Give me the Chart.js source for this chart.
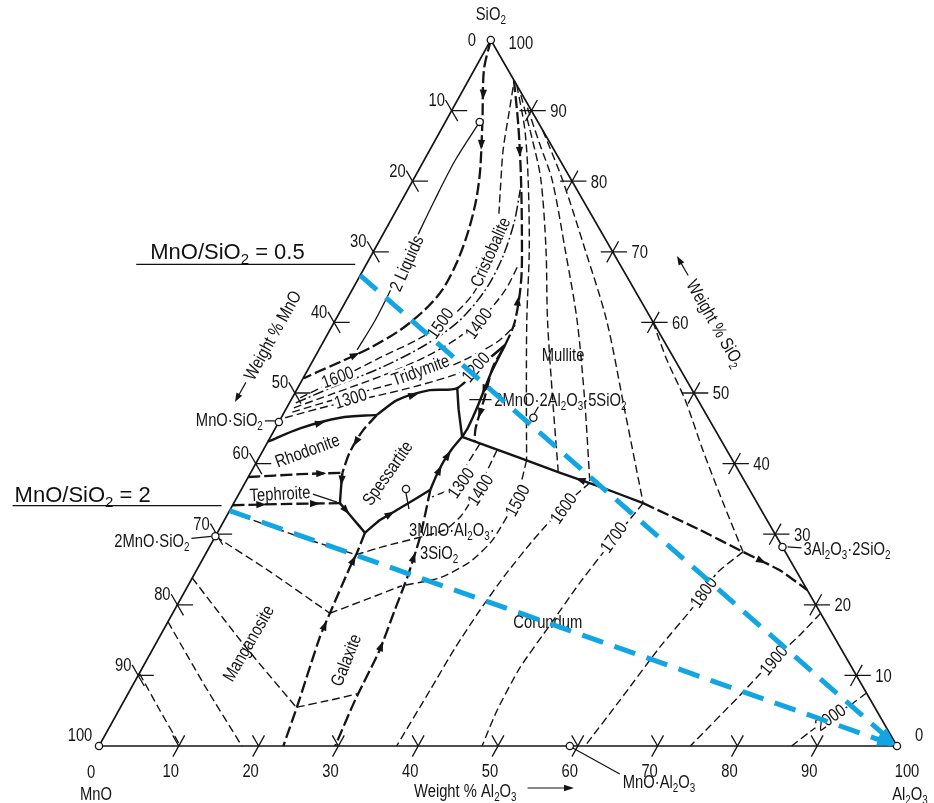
<!DOCTYPE html>
<html>
<head>
<meta charset="utf-8">
<script src="https://cdn.jsdelivr.net/npm/chart.js@4/dist/chart.umd.min.js"></script>
<style>
  html, body { margin: 0; padding: 0; background: #fff; }
  canvas { display: block; }
</style>
</head>
<body>
<canvas id="phase" width="934" height="803"></canvas>
<script>
// MnO – SiO2 – Al2O3 phase diagram (weight %).
// Every composition is written as [wt% Al2O3, wt% SiO2]; MnO is the remainder.

const tickValues = [10, 20, 30, 40, 50, 60, 70, 80, 90];

// Constant MnO/SiO2 ratio lines, from the MnO–SiO2 side to the Al2O3 corner
const ratioHalf = [[0, 66.67], [100, 0]];   // MnO/SiO2 = 0.5
const ratioTwo  = [[0, 33.33], [100, 0]];   // MnO/SiO2 = 2

// Compounds and corners (small open circles)
const compoundPoints = [[0, 100], [0, 0], [100, 0], [0, 45.9], [0, 29.7], [59, 0],
                        [71.8, 28.2], [31.6, 46.5], [20.6, 36.4], [4.3, 88.4]];

// Silica corner
const liquidGap = [[4.3,88.4],[3.9,83.0],[4.1,77.3],[4.5,71.0],[4.8,65.3],[5.0,60.3],[4.8,56.1]];
const silicaBoundary = [[0,100],[1.2,95.8],[4.5,88.7],[7.7,81.6],[9.3,77.3],[10.5,72.8],[11.2,68.6],
                        [11.3,64.6],[10.5,61.8],[8.8,58.9],[6.3,56.4],[3.5,54.4],[1.4,53.0],[0.1,52.1]];
const silicaIsoA = [[1.0,49.3],[4.6,52.1],[8.2,55.0],[11.9,57.8],[14.2,60.6],[15.4,63.9],[15.3,68.1],
                    [14.0,73.1],[11.6,78.8],[9.2,84.4],[7.2,90.1],[5.8,94.1]];
const cristobaliteTridymite = [[0.8,48.6],[4.1,50.7],[8.9,53.5],[13.0,56.8],[15.6,60.3],[16.7,64.6],
                               [16.6,69.1],[15.6,74.2],[14.1,78.8]];
const silicaIsoB = [[0.9,47.9],[5.0,50.0],[10.0,52.6],[13.8,55.1],[16.6,57.8],[18.4,61.1],[19.2,64.6],[19.1,68.1]];
const silicaIsoC = [[1.0,47.3],[6.0,49.3],[12.4,51.6],[17.6,53.8],[20.3,55.8],[22.0,57.5],[22.9,59.6]];
const silicaIsoD = [[0.5,46.5],[5.3,48.2],[10.8,49.7],[15.1,51.1],[18.8,52.6],[22.3,54.4]];
const cristobaliteMullite = [[5.7,94.3],[9.5,87.7],[13.3,80.6],[17.1,73.1],[20.5,66.0],[22.6,60.1],
                             [23.0,56.8],[23.0,53.7],[24.1,49.3],[25.1,45.0],[25.9,43.1]];
const tridymiteWedge = [[23.0,56.8],[23.2,52.6],[23.8,48.3],[24.1,45.0],[24.0,43.8]];

// Field boundaries around spessartite
const tridymiteSpessartite = [[11.8,46.9],[13.3,49.0],[16.7,50.4],[20.0,50.7],[21.7,54.4],[23.0,56.8]];
const eutecticLink = [[20.0,50.7],[21.7,47.6],[24.0,43.8]];
const rhodoniteTridymite = [[0,43.1],[3.1,45.0],[7.4,46.5],[11.8,46.9]];
const rhodoniteSpessartite = [[11.8,46.9],[11.1,44.5],[11.0,41.6],[11.5,38.7]];
const rhodoniteTephroite = [[0,38.1],[6.3,38.5],[11.5,38.7]];
const tephroiteStep = [[11.5,38.7],[12.4,36.5],[13.3,34.4]];
const tephroiteManganosite = [[0,34.1],[7.1,34.3],[13.3,34.4]];
const spessartiteFoot = [[13.3,34.4],[15.9,32.3],[18.5,30.2]];
const spessartiteRight = [[24.0,43.8],[23.6,42.2],[23.4,40.2],[23.5,38.0],[23.7,36.3]];
const spessartiteBase = [[23.7,36.3],[21.2,33.7],[19.5,32.0],[18.5,30.2]];
const manganositeGalaxite = [[18.5,30.2],[18.9,27.3],[19.0,25.4],[19.7,18.8],[20.1,15.4],[22.1,5.5],[23.1,0]];
const galaxiteCorundum = [[23.7,36.3],[25.7,29.6],[26.9,23.9],[27.6,19.3],[28.5,13.6],[28.9,6.5],[29.6,0]];
const corundumMulliteSolid = [[24.0,43.8],[32.7,40.8],[38.8,38.7],[44.8,36.7],[51.3,34.4]];
const corundumMulliteDashed = [[51.3,34.4],[60.3,30.6],[67.2,27.5],[73.1,24.9],[77.9,22.1]];

// Isotherms, manganosite / tephroite / galaxite fields
const mnIsoA = [[0,23.8],[10.8,14.6],[22.0,5.5]];
const mnIsoB = [[0,17.6],[9.0,8.6],[17.9,0]];
const mnIsoC = [[0,10.3],[5.1,5.1],[10.2,0]];
const orthosilicateIso = [[0,29.7],[9.3,24.7],[19.7,18.8]];
const tephroiteIso = [[0.3,33.1],[10.7,29.6],[18.9,27.1]];
const galaxiteIsoLow = [[22.1,5.5],[25.8,6.5],[28.8,7.4]];
const galaxiteIsoMid = [[19.7,18.8],[23.2,20.7],[26.8,22.7]];
const galaxiteIsoHigh = [[18.9,27.1],[21.9,28.3],[25.5,29.5]];

// Isotherms, corundum field (°C)
const iso1300 = [[26.7,42.8],[26.5,39.4],[26.3,36.5],[24.4,35.3]];
const iso1400 = [[29.3,41.9],[29.6,37.0],[29.4,32.7],[28.3,30.6],[25.5,29.5]];
const iso1500 = [[33.7,40.5],[35.1,35.1],[35.0,29.2],[33.7,26.1],[31.0,23.8],[26.8,22.7]];
const iso1600 = [[43.2,37.3],[41.6,34.1],[40.1,29.2],[39.0,24.2],[38.3,19.3],[37.8,13.9],[37.6,7.9],[37.3,0]];
const iso1700 = [[51.3,34.4],[50.1,29.2],[48.9,23.1],[48.1,17.1],[47.3,11.1],[47.4,5.1],[48.0,0]];
const iso1800 = [[67.2,27.5],[65.4,24.5],[64.8,19.7],[63.4,14.0],[62.1,6.5],[60.9,0]];
const iso1900 = [[81.2,18.8],[80.1,15.7],[78.5,12.2],[76.8,7.2],[74.1,0]];
const iso2000 = [[92.5,7.5],[91.3,5.8],[89.6,4.1],[88.1,2.0],[86.8,0]];

// Isotherms, mullite field
const mulliteIsoA = [[6.4,93.6],[10.5,87.3],[14.4,80.2],[19.4,70.3],[24.0,60.3],[29.5,49.0],[33.7,40.5]];
const mulliteIsoB = [[7.6,92.2],[12.2,85.8],[16.0,80.2],[21.5,70.3],[26.6,60.3],[32.8,49.0],[38.5,38.8]];
const mulliteIsoC = [[9.3,90.4],[13.5,85.1],[17.4,80.2],[23.9,70.3],[30.3,60.3],[36.8,49.0],[43.2,37.3]];
const mulliteIsoD = [[12.8,87.2],[18.7,80.2],[26.4,70.3],[34.0,60.3],[42.5,47.6],[51.3,34.4]];
const mulliteIsoE = [[39.9,60.1],[44.3,54.7],[49.4,49.0],[55.1,41.9],[61.0,34.8],[67.2,27.5]];

const triangle = [[0,0],[100,0],[0,100],[0,0]];

// ---------------------------------------------------------------------------
// Ternary geometry: horizontal value = Al2O3 + k·SiO2, vertical value = SiO2
const SKEW = 0.491;
const toXY = c => ({ x: c[0] + SKEW * c[1], y: c[1] });

const INK = '#141414';
const BLUE = '#12a5e3';
const FONT = '"Liberation Sans", Arial, sans-serif';

const lineStyles = {
  heavy:     { borderWidth: 2.4, borderDash: [] },
  heavyDash: { borderWidth: 2.3, borderDash: [12, 4] },
  thinDash:  { borderWidth: 1.4, borderDash: [8, 4] },
  dashDot:   { borderWidth: 1.5, borderDash: [11, 3, 2, 3] },
  thin:      { borderWidth: 1.3, borderDash: [] },
  edge:      { borderWidth: 1.6, borderDash: [] }
};

function curve(points, style, extra) {
  return Object.assign({
    data: points.map(toXY), showLine: true, pointRadius: 0, pointHoverRadius: 0,
    borderColor: INK, tension: 0.3, clip: false, fill: false,
    borderJoinStyle: 'round'
  }, lineStyles[style], extra || {});
}

const datasets = [
  curve(ratioHalf, 'thin', { borderColor: BLUE, borderWidth: 5, borderDash: [22, 12], tension: 0, blue: true }),
  curve(ratioTwo,  'thin', { borderColor: BLUE, borderWidth: 5, borderDash: [22, 12], tension: 0, blue: true }),
  curve(triangle, 'edge', { tension: 0, annotateAfter: true }),

  curve(liquidGap, 'thin'),
  curve(silicaBoundary, 'heavyDash', { arrows: [[1, 1], [2, 1], [10, -1]] }),
  curve(silicaIsoA, 'thinDash'),
  curve(cristobaliteTridymite, 'dashDot'),
  curve(silicaIsoB, 'thinDash'),
  curve(silicaIsoC, 'thinDash'),
  curve(silicaIsoD, 'thinDash'),
  curve(cristobaliteMullite, 'heavyDash', { arrows: [[1, 1], [4, -1], [8, 1]] }),
  curve(tridymiteWedge, 'heavy', { tension: 0.2, arrows: [[1, 1]] }),

  curve(tridymiteSpessartite, 'heavy', { tension: 0.25, arrows: [[1, 1]] }),
  curve(eutecticLink, 'heavy', { tension: 0.1 }),
  curve(rhodoniteTridymite, 'heavy', { arrows: [[1, 1]] }),
  curve(rhodoniteSpessartite, 'heavyDash', { arrows: [[1, 1]] }),
  curve(rhodoniteTephroite, 'heavyDash', { tension: 0.1, arrows: [[1, 1]] }),
  curve(tephroiteStep, 'heavy', { tension: 0.1, arrows: [[0, 1]] }),
  curve(tephroiteManganosite, 'heavyDash', { tension: 0.1, arrows: [[0, 1], [1, 1]] }),
  curve(spessartiteFoot, 'heavy', { tension: 0.1, arrows: [[0, 1]] }),
  curve(spessartiteRight, 'heavy', { tension: 0.2, arrows: [[1, -1], [2, -1]] }),
  curve(spessartiteBase, 'heavy', { tension: 0.15, arrows: [[1, -1]] }),
  curve(manganositeGalaxite, 'heavyDash', { tension: 0.2, arrows: [[1, -1], [3, -1]] }),
  curve(galaxiteCorundum, 'heavyDash', { tension: 0.2, arrows: [[1, -1], [3, -1, 0.9]] }),
  curve(corundumMulliteSolid, 'heavy', { tension: 0.1, arrows: [[2, -1]] }),
  curve(corundumMulliteDashed, 'heavyDash', { tension: 0.1, arrows: [[2, 1]] }),

  curve(mnIsoA, 'thinDash', { tension: 0.2 }),
  curve(mnIsoB, 'thinDash', { tension: 0.2 }),
  curve(mnIsoC, 'thinDash', { tension: 0.2 }),
  curve(orthosilicateIso, 'thinDash', { tension: 0.2 }),
  curve(tephroiteIso, 'thinDash', { tension: 0.3 }),
  curve(galaxiteIsoLow, 'thinDash', { tension: 0.1 }),
  curve(galaxiteIsoMid, 'thinDash', { tension: 0.1 }),
  curve(galaxiteIsoHigh, 'thinDash', { tension: 0.1 }),

  curve(iso1300, 'thinDash', { tension: 0.2 }),
  curve(iso1400, 'thinDash', { tension: 0.2 }),
  curve(iso1500, 'thinDash', { tension: 0.2 }),
  curve(iso1600, 'thinDash', { tension: 0.2 }),
  curve(iso1700, 'thinDash', { tension: 0.2 }),
  curve(iso1800, 'thinDash', { tension: 0.2 }),
  curve(iso1900, 'thinDash', { tension: 0.2 }),
  curve(iso2000, 'thinDash', { tension: 0.2 }),

  curve(mulliteIsoA, 'thinDash'),
  curve(mulliteIsoB, 'thinDash'),
  curve(mulliteIsoC, 'thinDash'),
  curve(mulliteIsoD, 'thinDash'),
  curve(mulliteIsoE, 'thinDash')
];

// ---------------------------------------------------------------------------
// Text placed on the diagram: anchor composition, optional pixel nudge
const fieldLabels = [
  { t: '2 Liquids', c: [4.9, 68.4], r: -66, bg: true },
  { t: 'Cristobalite', c: [14.6, 70.0], r: -66, bg: true },
  { t: 'Mullite', c: [30.9, 55.5] },
  { t: 'Tridymite', c: [14.1, 53.3], r: -20, bg: true },
  { t: 'Rhodonite', c: [5.5, 41.9], r: -20 },
  { t: 'Tephroite', c: [5.1, 35.8], r: -3 },
  { t: 'Spessartite', c: [17.1, 38.7], r: -55 },
  { t: 'Galaxite', c: [24.9, 12.2], r: -68 },
  { t: 'Manganosite', c: [11.5, 14.6], r: -60 },
  { t: 'Corundum', c: [47.6, 17.6] }
];

const isothermLabels = [
  { t: '1300', c: [27.0, 37.3], r: -55, bg: true },
  { t: '1400', c: [29.9, 36.3], r: -58, bg: true },
  { t: '1500', c: [35.3, 34.8], r: -62, bg: true },
  { t: '1600', c: [41.6, 33.7], r: -55, bg: true },
  { t: '1700', c: [49.9, 29.6], r: -55, bg: true },
  { t: '1800', c: [65.0, 21.8], r: -55, bg: true },
  { t: '1900', c: [78.5, 12.2], r: -50, bg: true },
  { t: '2000', c: [89.6, 4.1], r: -35, bg: true },
  { t: '1600', c: [4.2, 52.3], r: -20, bg: true },
  { t: '1500', c: [13.3, 59.9], r: -55, bg: true },
  { t: '1400', c: [18.1, 59.9], r: -55, bg: true },
  { t: '1300', c: [7.3, 49.3], r: -17, bg: true },
  { t: '1200', c: [20.8, 53.7], r: -50, bg: true }
];

const compoundLabels = [
  { t: 'MnO·SiO_2', c: [0, 45.9], d: [-16, -2], align: 'right' },
  { t: '2MnO·SiO_2', c: [0, 29.7], d: [-26, 4], align: 'right' },
  { t: 'MnO·Al_2O_3', c: [59, 0], d: [53, 36], align: 'left' },
  { t: '3Al_2O_3·2SiO_2', c: [71.8, 28.2], d: [21, 2], align: 'left' },
  { t: '2MnO·2Al_2O_3·5SiO_2', c: [31.6, 46.5], d: [-39, -18], align: 'left' },
  { t: '3MnO·Al_2O_3·', c: [20.6, 36.4], d: [3, 41], align: 'left' },
  { t: '3SiO_2', c: [20.6, 36.4], d: [14, 64], align: 'left' }
];

const leaders = [
  { c: [0, 45.9], a: [-4, -1], b: [-14, -1] },
  { c: [0, 29.7], a: [-4, 0], b: [-24, 2] },
  { c: [59, 0], a: [3, 2], b: [50, 28] },
  { c: [71.8, 28.2], a: [5, 0], b: [19, 1] },
  { c: [31.6, 46.5], a: [1, -4], b: [5, -11] },
  { c: [31.6, 46.5], a: [-64, -18], b: [-42, -18] },
  { c: [20.6, 36.4], a: [0, 4], b: [3, 20] },
  { c: [13.3, 34.4], a: [-27, -9], b: [-3, -1] }
];

const cornerLabels = [
  { t: 'SiO_2', c: [0, 100], d: [0, -26] },
  { t: '0', c: [0, 100], d: [-19, 0] },
  { t: '100', c: [0, 100], d: [30, 3] },
  { t: '100', c: [0, 0], d: [-19, -11] },
  { t: '0', c: [0, 0], d: [-8, 26] },
  { t: 'MnO', c: [0, 0], d: [-3, 48] },
  { t: '0', c: [100, 0], d: [22, -11] },
  { t: '100', c: [100, 0], d: [10, 25] },
  { t: 'Al_2O_3', c: [100, 0], d: [13, 48] }
];

// ---------------------------------------------------------------------------
function toPixel(chart, c) {
  const v = toXY(c);
  return [chart.scales.x.getPixelForValue(v.x), chart.scales.y.getPixelForValue(v.y)];
}

function richParts(s) {
  const out = [];
  for (let i = 0; i < s.length; i++) {
    if (s[i] === '_') { out.push({ t: s[i + 1], sub: true }); i++; }
    else {
      const last = out[out.length - 1];
      if (last && !last.sub) last.t += s[i]; else out.push({ t: s[i], sub: false });
    }
  }
  return out;
}

function drawText(ctx, s, x, y, o) {
  o = o || {};
  const size = o.size || 18, family = o.family || FONT, squeeze = o.squeeze ?? 0.82;
  const subSize = Math.round(size * 0.68);
  const parts = richParts(s);
  ctx.save();
  ctx.translate(x, y);
  ctx.rotate((o.rot || 0) * Math.PI / 180);
  ctx.scale(squeeze, 1);
  let w = 0;
  parts.forEach(p => { ctx.font = `${p.sub ? subSize : size}px ${family}`; p.w = ctx.measureText(p.t).width; w += p.w; });
  let x0 = o.align === 'left' ? 0 : o.align === 'right' ? -w : -w / 2;
  if (o.bg) { ctx.fillStyle = '#fff'; ctx.fillRect(x0 - 2, -size * 0.46, w + 4, size * 0.92); }
  ctx.fillStyle = o.color || INK;
  ctx.textBaseline = 'alphabetic';
  const base = o.baseline ?? size * 0.36;
  parts.forEach(p => {
    ctx.font = `${p.sub ? subSize : size}px ${family}`;
    ctx.fillText(p.t, x0, p.sub ? base + size * 0.22 : base);
    x0 += p.w;
  });
  ctx.restore();
  return w * squeeze;
}

function arrowHead(ctx, x, y, ang, len, half, color) {
  ctx.save();
  ctx.translate(x, y);
  ctx.rotate(ang);
  ctx.beginPath();
  ctx.moveTo(len / 2, 0);
  ctx.lineTo(-len / 2, -half);
  ctx.lineTo(-len / 2, half);
  ctx.closePath();
  ctx.fillStyle = color;
  ctx.fill();
  ctx.restore();
}

function drawAnnotations(chart) {
  const ctx = chart.ctx;
  const P = c => toPixel(chart, c);

  // Arrows along boundary curves
  chart.data.datasets.forEach((ds, i) => {
    if (!ds.arrows) return;
    const pts = chart.getDatasetMeta(i).data;
    ds.arrows.forEach(([s, dir, t]) => {
      const a = pts[s], b = pts[s + 1];
      const f = t ?? 0.5;
      const x = a.x + (b.x - a.x) * f, y = a.y + (b.y - a.y) * f;
      let ang = Math.atan2(b.y - a.y, b.x - a.x);
      if (dir < 0) ang += Math.PI;
      arrowHead(ctx, x, y, ang, 10, 3.6, INK);
    });
  });

  // Ticks on the three sides
  const T = 1.5;
  ctx.save();
  ctx.strokeStyle = INK;
  ctx.lineWidth = 1.3;
  ctx.beginPath();
  const seg = (a, b) => { const p = P(a), q = P(b); ctx.moveTo(p[0], p[1]); ctx.lineTo(q[0], q[1]); };
  tickValues.forEach(k => {
    seg([k, -T], [k, T]);                       // base (Al2O3)
    seg([k, 0], [k - T, T]);
    const s = 100 - k;                          // left side (MnO = k)
    seg([-T, s + T], [T, s - T]);
    seg([0, s], [T * 1.3, s]);
    seg([100 - k - T, k], [100 - k + T * 1.2, k]);  // right side (SiO2 = k)
    seg([100 - k, k - T], [100 - k, k + T]);
  });
  // Leader lines
  leaders.forEach(l => {
    const p = P(l.c);
    ctx.moveTo(p[0] + l.a[0], p[1] + l.a[1]);
    ctx.lineTo(p[0] + l.b[0], p[1] + l.b[1]);
  });
  ctx.stroke();
  ctx.restore();

  // Tick labels
  tickValues.forEach(k => {
    const b = P([k, 0]);
    drawText(ctx, String(k), b[0] - 8, b[1] + 25);
    const l = P([0, 100 - k]);
    drawText(ctx, String(k), l[0] - 15, l[1] - 11);
    const r = P([100 - k, k]);
    drawText(ctx, String(k), r[0] + 27, r[1]);
  });

  // Corner and axis titles
  cornerLabels.forEach(L => { const p = P(L.c); drawText(ctx, L.t, p[0] + L.d[0], p[1] + L.d[1]); });

  const base = P([45.9, 0]);
  drawText(ctx, 'Weight % Al_2O_3', base[0], base[1] + 45);
  const arrowStart = P([53.7, 0]), arrowEnd = P([59.4, 0]);
  ctx.save();
  ctx.strokeStyle = INK; ctx.lineWidth = 1.2;
  ctx.beginPath();
  ctx.moveTo(arrowStart[0], arrowStart[1] + 42);
  ctx.lineTo(arrowEnd[0] - 6, arrowEnd[1] + 42);
  ctx.stroke();
  ctx.restore();
  arrowHead(ctx, arrowEnd[0] - 4, arrowEnd[1] + 42, 0, 10, 3.2, INK);

  const leftTitle = P([0, 58.2]);
  const lx = leftTitle[0] - 55, ly = leftTitle[1];
  drawText(ctx, 'Weight % MnO', lx, ly, { rot: -61 });
  const la = -61 * Math.PI / 180;
  const ls = [lx - Math.cos(la) * 54, ly - Math.sin(la) * 54];
  ctx.save(); ctx.strokeStyle = INK; ctx.lineWidth = 1.2; ctx.beginPath();
  ctx.moveTo(ls[0], ls[1]);
  ctx.lineTo(ls[0] - Math.cos(la) * 16, ls[1] - Math.sin(la) * 16);
  ctx.stroke(); ctx.restore();
  arrowHead(ctx, ls[0] - Math.cos(la) * 18, ls[1] - Math.sin(la) * 18, la + Math.PI, 9, 3.2, INK);

  const rightTitle = P([40.1, 59.9]);
  const rx = rightTitle[0] + 62, ry = rightTitle[1];
  drawText(ctx, 'Weight % SiO_2', rx, ry, { rot: 60 });
  const ra = 60 * Math.PI / 180;
  const rs = [rx - Math.cos(ra) * 55, ry - Math.sin(ra) * 55];
  ctx.save(); ctx.strokeStyle = INK; ctx.lineWidth = 1.2; ctx.beginPath();
  ctx.moveTo(rs[0], rs[1]);
  ctx.lineTo(rs[0] - Math.cos(ra) * 16, rs[1] - Math.sin(ra) * 16);
  ctx.stroke(); ctx.restore();
  arrowHead(ctx, rs[0] - Math.cos(ra) * 18, rs[1] - Math.sin(ra) * 18, ra + Math.PI, 9, 3.2, INK);

  // Field, isotherm and compound labels
  fieldLabels.concat(isothermLabels).forEach(L => {
    const p = P(L.c);
    drawText(ctx, L.t, p[0], p[1], { rot: L.r || 0, bg: L.bg });
  });
  compoundLabels.forEach(L => {
    const p = P(L.c);
    drawText(ctx, L.t, p[0] + L.d[0], p[1] + L.d[1], { align: L.align });
  });

  // Compound circles
  compoundPoints.forEach(c => {
    const p = P(c);
    ctx.beginPath();
    ctx.arc(p[0], p[1], 3.6, 0, Math.PI * 2);
    ctx.fillStyle = '#fff'; ctx.fill();
    ctx.lineWidth = 1.3; ctx.strokeStyle = INK; ctx.stroke();
  });
}

function drawRatioNotes(chart) {
  const ctx = chart.ctx;
  const notes = [
    { text: 'MnO/SiO_2 = 0.5', c: ratioHalf[0], tx: -210, ty: -16, ux0: -224, ux1: -5, uy: -11 },
    { text: 'MnO/SiO_2 = 2', c: ratioTwo[0], tx: -215, ty: -9, ux0: -217, ux1: -8, uy: -5 }
  ];
  notes.forEach(n => {
    const p = toPixel(chart, n.c);
    drawText(ctx, n.text, p[0] + n.tx, p[1] + n.ty, { size: 22, squeeze: 1, align: 'left', baseline: 0, color: '#111' });
    ctx.save();
    ctx.strokeStyle = '#111'; ctx.lineWidth = 1.3;
    ctx.beginPath();
    ctx.moveTo(p[0] + n.ux0, p[1] + n.uy);
    ctx.lineTo(p[0] + n.ux1, p[1] + n.uy);
    ctx.stroke();
    ctx.restore();
  });

  // Arrow tips where the ratio lines reach the Al2O3 corner
  [ratioHalf, ratioTwo].forEach(line => {
    const a = toPixel(chart, line[0]), b = toPixel(chart, line[1]);
    const ang = Math.atan2(b[1] - a[1], b[0] - a[0]);
    arrowHead(ctx, b[0] - Math.cos(ang) * 11, b[1] - Math.sin(ang) * 11, ang, 18, 6.5, BLUE);
  });
}

const ternaryPlugin = {
  id: 'ternaryDecor',
  afterDatasetDraw(chart, args) {
    if (chart.data.datasets[args.index].annotateAfter) drawAnnotations(chart);
  },
  afterDatasetsDraw(chart) { drawRatioNotes(chart); }
};

new Chart(document.getElementById('phase'), {
  type: 'scatter',
  data: { datasets },
  options: {
    responsive: false,
    animation: false,
    devicePixelRatio: 1,
    events: [],
    layout: { padding: { left: 99, right: 37, top: 40, bottom: 57 } },
    scales: {
      x: { type: 'linear', min: 0, max: 100, display: false },
      y: { type: 'linear', min: 0, max: 100, display: false }
    },
    plugins: { legend: { display: false }, tooltip: { enabled: false } }
  },
  plugins: [ternaryPlugin]
});
</script>
</body>
</html>
